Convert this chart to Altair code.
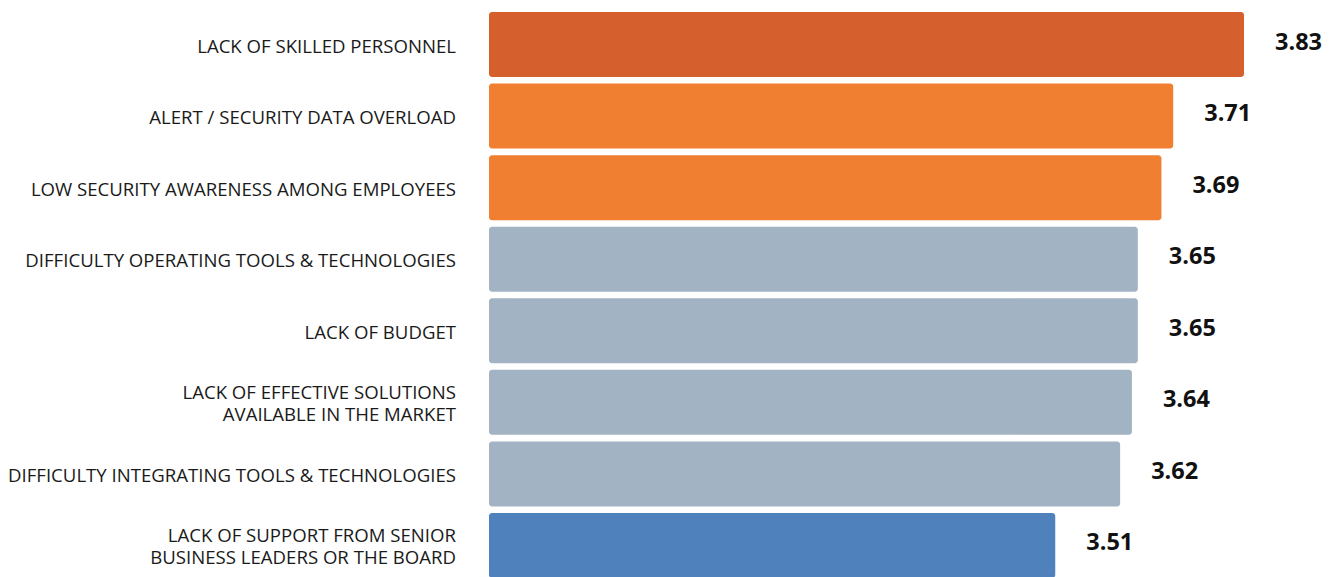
import altair as alt
import pandas as pd

categories = [
    "LACK OF SKILLED PERSONNEL",
    "ALERT / SECURITY DATA OVERLOAD",
    "LOW SECURITY AWARENESS AMONG EMPLOYEES",
    "DIFFICULTY OPERATING TOOLS & TECHNOLOGIES",
    "LACK OF BUDGET",
    "LACK OF EFFECTIVE SOLUTIONS\u00a0|AVAILABLE IN THE MARKET",
    "DIFFICULTY INTEGRATING TOOLS & TECHNOLOGIES",
    "LACK OF SUPPORT FROM SENIOR\u00a0|BUSINESS LEADERS OR THE BOARD",
]
values = [3.83, 3.71, 3.69, 3.65, 3.65, 3.64, 3.62, 3.51]
colors = ["#D55F2D", "#F07F32", "#F07F32", "#A2B4C3", "#A2B4C3", "#A2B4C3", "#A2B4C3", "#4F81BC"]
x_min = 2.55

df = pd.DataFrame({"cat": categories, "val": values, "color": colors})

y = alt.Y("cat:N", sort=categories,
          scale=alt.Scale(paddingInner=0.092, paddingOuter=0.056),
          axis=None)
x = alt.X("val:Q", scale=alt.Scale(domain=[x_min, 3.83], zero=False, nice=False),
          axis=None)

bars = alt.Chart(df).mark_bar(cornerRadius=3).encode(
    x=x, x2=alt.datum(x_min), y=y, color=alt.Color("color:N", scale=None)
)
text = alt.Chart(df).mark_text(align="left", baseline="middle", dx=31, dy=-2,
                               font="Open Sans", fontSize=23.5, fontWeight="bold",
                               color="#111111").encode(
    x=x, y=y, text=alt.Text("val:Q", format=".2f")
)
label_style = dict(align="right", baseline="middle", dx=-33,
                   font="Open Sans", fontSize=18.6, color="#1a1a1a",
                   lineBreak="|", lineHeight=21.5)
labels1 = alt.Chart(df).transform_filter(
    "indexof(datum.cat, '|') < 0"
).mark_text(dy=2, **label_style).encode(x=alt.value(0), y=y, text="cat:N")
labels2 = alt.Chart(df).transform_filter(
    "indexof(datum.cat, '|') >= 0"
).mark_text(dy=-9, **label_style).encode(x=alt.value(0), y=y, text="cat:N")

chart = (bars + text + labels1 + labels2).properties(
    width=755, height=574,
    padding=0,
).configure_view(stroke=None)

chart.save("out.html", embed_options={"renderer": "svg", "actions": False})
